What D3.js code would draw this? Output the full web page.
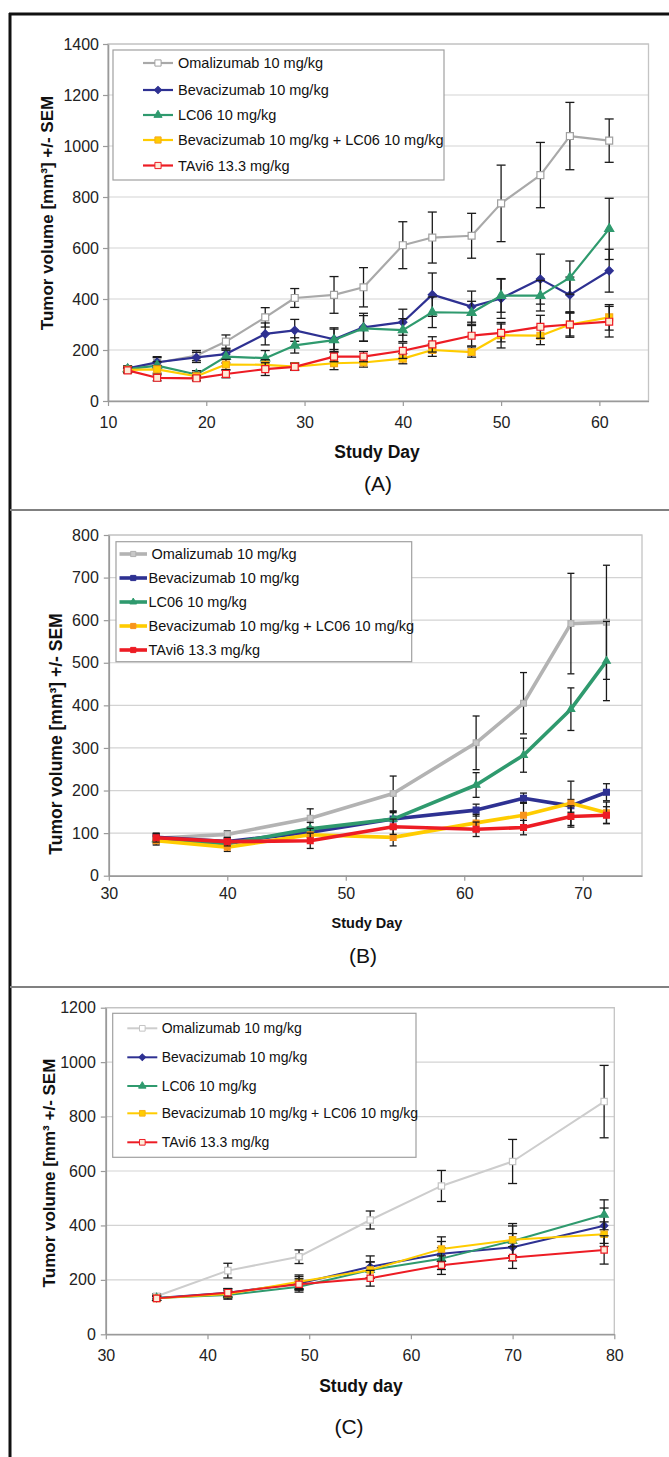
<!DOCTYPE html>
<html>
<head>
<meta charset="utf-8">
<script src="https://cdn.jsdelivr.net/npm/d3@7"></script>
<style>
body{margin:0;background:#fff}
svg{display:block}
text{font-family:Arial,"Liberation Sans",sans-serif}
</style>
</head>
<body>
<svg id="svg" width="669" height="1457"></svg>
<script>
//legend labels, same for the three panels
var seriesNames = ["Omalizumab 10 mg/kg", "Bevacizumab 10 mg/kg", "LC06 10 mg/kg",
    "Bevacizumab 10 mg/kg + LC06 10 mg/kg", "TAvi6 13.3 mg/kg"];

//panel A
var daysA = [12, 15, 19, 22, 26, 29, 33, 36, 40, 43, 47, 50, 54, 57, 61];
var omaA = [125, 150, 178, 233, 328, 404, 416, 446, 611, 641, 648, 775, 886, 1039, 1021];
var omaSemA = [10, 20, 20, 26, 38, 37, 72, 77, 92, 100, 88, 150, 128, 132, 85];
var bevA = [128, 152, 171, 184, 263, 277, 242, 289, 309, 417, 370, 402, 478, 416, 511];
var bevSemA = [10, 22, 20, 20, 43, 43, 40, 55, 51, 85, 61, 78, 98, 70, 84];
var lcA = [125, 139, 104, 174, 168, 218, 239, 285, 278, 348, 346, 413, 413, 484, 675];
var lcSemA = [10, 15, 15, 25, 30, 30, 48, 50, 45, 60, 45, 65, 60, 65, 120];
var comboA = [122, 124, 97, 143, 142, 135, 148, 151, 166, 200, 192, 258, 256, 300, 328];
var comboSemA = [10, 15, 15, 20, 20, 15, 25, 18, 20, 25, 20, 50, 35, 45, 50];
var taviA = [120, 91, 89, 106, 125, 134, 174, 174, 197, 222, 256, 267, 291, 300, 311];
var taviSemA = [10, 12, 10, 15, 25, 12, 20, 20, 30, 30, 40, 35, 45, 50, 60];
var yTicksA = [0, 200, 400, 600, 800, 1000, 1200, 1400];
var xTicksA = [10, 20, 30, 40, 50, 60];

//panel B
var daysB = [34, 40, 47, 54, 61, 65, 69, 72];
var omaB = [88, 97, 135, 193, 312, 405, 592, 595];
var omaSemB = [10, 8, 22, 41, 63, 72, 118, 134];
var bevB = [90, 80, 102, 133, 154, 182, 164, 196];
var bevSemB = [10, 8, 12, 15, 14, 12, 15, 20];
var lcB = [85, 75, 110, 133, 213, 283, 391, 504];
var lcSemB = [10, 8, 15, 18, 29, 40, 50, 93];
var comboB = [82, 67, 96, 90, 124, 142, 170, 148];
var comboSemB = [10, 10, 15, 20, 20, 30, 52, 25];
var taviB = [89, 80, 82, 115, 109, 113, 139, 142];
var taviSemB = [10, 10, 18, 18, 17, 17, 25, 20];
var yTicksB = [0, 100, 200, 300, 400, 500, 600, 700, 800];
var xTicksB = [30, 40, 50, 60, 70];

//panel C
var daysC = [35, 42, 49, 56, 63, 70, 79];
var omaC = [140, 234, 285, 420, 545, 635, 855];
var omaSemC = [8, 27, 25, 33, 57, 81, 133];
var bevC = [133, 153, 187, 248, 296, 320, 399];
var bevSemC = [8, 15, 25, 40, 45, 50, 65];
var lcC = [133, 144, 175, 236, 278, 343, 439];
var lcSemC = [8, 15, 20, 30, 40, 55, 55];
var comboC = [132, 148, 193, 236, 313, 347, 368];
var comboSemC = [8, 15, 25, 30, 45, 60, 45];
var taviC = [132, 153, 184, 206, 254, 282, 310];
var taviSemC = [8, 15, 20, 29, 34, 40, 52];
var yTicksC = [0, 200, 400, 600, 800, 1000, 1200];
var xTicksC = [30, 40, 50, 60, 70, 80];

var svg = d3.select("#svg");

//figure frame
svg.append("line").attr("x1", 10).attr("x2", 10).attr("y1", 13).attr("y2", 1457)
    .attr("stroke", "#111").attr("stroke-width", 3);
svg.append("line").attr("x1", 9).attr("x2", 669).attr("y1", 14).attr("y2", 14)
    .attr("stroke", "#111").attr("stroke-width", 3);
[510, 987].forEach(function(yy) {
    svg.append("line").attr("x1", 10).attr("x2", 669).attr("y1", yy).attr("y2", yy)
        .attr("stroke", "#808080").attr("stroke-width", 2);
});

function markerPath(kind, size) {
    if (kind == "diamond") return d3.symbol().type(d3.symbolSquare).size(size * 0.7)();
    if (kind == "triangle") return d3.symbol().type(d3.symbolTriangle).size(size * 0.75)();
    return d3.symbol().type(d3.symbolSquare).size(size)();
}

function drawPanel(p) {
    var x = d3.scaleLinear().domain(p.xDomain).range([p.left, p.right]);
    var y = d3.scaleLinear().domain(p.yDomain).range([p.bottom, p.top]);
    var g = svg.append("g");

    //gridlines
    g.selectAll(".grid").data(p.yTicks.filter(function(d){ return d > 0; })).enter()
        .append("line")
        .attr("x1", p.left).attr("x2", p.right)
        .attr("y1", function(d){ return y(d); }).attr("y2", function(d){ return y(d); })
        .attr("stroke", "#d3d3d3").attr("stroke-width", 1.2);

    //plot area border
    g.append("rect").attr("x", p.left).attr("y", p.top)
        .attr("width", p.right - p.left).attr("height", p.bottom - p.top)
        .attr("fill", "none").attr("stroke", "#c4c4c4").attr("stroke-width", 1.3);

    //axes
    var yAxis = g.append("g").attr("transform", "translate(" + p.left + ",0)")
        .call(d3.axisLeft(y).tickValues(p.yTicks).tickFormat(d3.format("d"))
            .tickSize(5).tickPadding(p.yPad).tickSizeOuter(0));
    var xAxis = g.append("g").attr("transform", "translate(0," + p.bottom + ")")
        .call(d3.axisBottom(x).tickValues(p.xTicks).tickFormat(d3.format("d"))
            .tickSize(5).tickPadding(p.xPad).tickSizeOuter(0));
    [yAxis, xAxis].forEach(function(ax) {
        ax.select(".domain").attr("stroke", "#9a9a9a").attr("stroke-width", 1.6);
        ax.selectAll(".tick line").attr("stroke", "#9a9a9a").attr("stroke-width", 1.2);
        ax.selectAll(".tick text").attr("font-size", p.tickFont).attr("fill", "#222")
            .attr("font-family", "Arial, 'Liberation Sans', sans-serif");
    });

    //series
    p.series.forEach(function(s) {
        var pts = p.days.map(function(d, i){ return {day: d, v: s.values[i], sem: s.sem[i]}; });
        g.append("path").datum(pts)
            .attr("fill", "none").attr("stroke", s.color).attr("stroke-width", p.lineW)
            .attr("stroke-linejoin", "round")
            .attr("d", d3.line().x(function(d){ return x(d.day); }).y(function(d){ return y(d.v); }));

        //error bars
        var eb = g.append("g").attr("stroke", "#1a1a1a").attr("stroke-width", 1.3);
        pts.forEach(function(d) {
            var cx = x(d.day), y1 = y(d.v - d.sem), y2 = y(d.v + d.sem);
            eb.append("line").attr("x1", cx).attr("x2", cx).attr("y1", y1).attr("y2", y2);
            eb.append("line").attr("x1", cx - p.cap).attr("x2", cx + p.cap).attr("y1", y1).attr("y2", y1);
            eb.append("line").attr("x1", cx - p.cap).attr("x2", cx + p.cap).attr("y1", y2).attr("y2", y2);
        });

        g.selectAll(null).data(pts).enter().append("path")
            .attr("d", markerPath(s.marker, p.mSize))
            .attr("transform", function(d){
                return "translate(" + x(d.day) + "," + y(d.v) + ")" + (s.marker == "diamond" ? " rotate(45)" : "");
            })
            .attr("fill", s.mFill).attr("stroke", s.mStroke).attr("stroke-width", 1.2);
    });

    //legend
    var lg = g.append("g");
    lg.append("rect").attr("x", p.legend.x).attr("y", p.legend.y)
        .attr("width", p.legend.w).attr("height", p.legend.h)
        .attr("fill", "#fff").attr("stroke", "#a0a0a0").attr("stroke-width", 1.2);
    p.series.forEach(function(s, i) {
        var ly = p.legend.rows[i];
        lg.append("line").attr("x1", p.legend.lx1).attr("x2", p.legend.lx2)
            .attr("y1", ly).attr("y2", ly)
            .attr("stroke", s.color).attr("stroke-width", p.lineW);
        lg.append("path").attr("d", markerPath(s.marker, p.mSize * 0.8))
            .attr("transform", "translate(" + (p.legend.lx1 + p.legend.lx2) / 2 + "," + ly + ")" + (s.marker == "diamond" ? " rotate(45)" : ""))
            .attr("fill", s.mFill).attr("stroke", s.mStroke).attr("stroke-width", 1);
        lg.append("text").attr("x", p.legend.tx + (i == 0 ? p.legend.firstShift : 0)).attr("y", ly)
            .attr("dy", "0.36em").attr("font-size", p.legend.font).attr("fill", "#111")
            .text(seriesNames[i]);
    });

    //titles
    g.append("text").attr("transform", "translate(" + p.yTitle.x + "," + p.yTitle.y + ") rotate(-90)")
        .attr("text-anchor", "middle").attr("font-weight", "bold").attr("font-size", p.yTitle.font)
        .attr("fill", "#111").text(p.yTitle.text);
    g.append("text").attr("x", p.xTitle.x).attr("y", p.xTitle.y)
        .attr("text-anchor", "middle").attr("font-weight", "bold").attr("font-size", p.xTitle.font)
        .attr("fill", "#111").text(p.xTitle.text);
    g.append("text").attr("x", p.label.x).attr("y", p.label.y)
        .attr("text-anchor", "middle").attr("font-size", 21).attr("fill", "#111").text(p.label.text);
}

var blue = "#2e3192", green = "#2f9a6e", yellow = "#ffcc00", red = "#ed1c24";

drawPanel({
    left: 108, right: 648.5, top: 44, bottom: 401,
    xDomain: [10, 65], yDomain: [0, 1400], xTicks: xTicksA, yTicks: yTicksA,
    yPad: 4, xPad: 11, tickFont: 16, lineW: 2.2, cap: 4.5, mSize: 48,
    days: daysA,
    series: [
        {values: omaA, sem: omaSemA, color: "#a9a9a9", marker: "square", mFill: "#fff", mStroke: "#a0a0a0"},
        {values: bevA, sem: bevSemA, color: blue, marker: "diamond", mFill: blue, mStroke: blue},
        {values: lcA, sem: lcSemA, color: green, marker: "triangle", mFill: green, mStroke: green},
        {values: comboA, sem: comboSemA, color: yellow, marker: "square", mFill: yellow, mStroke: "#f7a81b"},
        {values: taviA, sem: taviSemA, color: red, marker: "square", mFill: "#fdebd8", mStroke: red}
    ],
    legend: {x: 113, y: 50, w: 331, h: 130, rows: [63, 90, 115, 140, 165.5],
        lx1: 143, lx2: 173, tx: 178, firstShift: 0, font: 14.5},
    yTitle: {x: 53, y: 213, font: 17, text: "Tumor volume [mm\u00b3] +/- SEM"},
    xTitle: {x: 377, y: 458, font: 17.5, text: "Study Day"},
    label: {x: 378, y: 491, text: "(A)"}
});

drawPanel({
    left: 108.8, right: 642, top: 535, bottom: 875.7,
    xDomain: [30, 75], yDomain: [0, 800], xTicks: xTicksB, yTicks: yTicksB,
    yPad: 5, xPad: 7, tickFont: 16, lineW: 3.6, cap: 3.5, mSize: 34,
    days: daysB,
    series: [
        {values: omaB, sem: omaSemB, color: "#b3b3b3", marker: "square", mFill: "#c8c8c8", mStroke: "#b0b0b0"},
        {values: bevB, sem: bevSemB, color: blue, marker: "square", mFill: blue, mStroke: blue},
        {values: lcB, sem: lcSemB, color: green, marker: "triangle", mFill: green, mStroke: green},
        {values: comboB, sem: comboSemB, color: yellow, marker: "square", mFill: "#f7941d", mStroke: "#f7941d"},
        {values: taviB, sem: taviSemB, color: red, marker: "square", mFill: red, mStroke: red}
    ],
    legend: {x: 116, y: 541.7, w: 295.7, h: 120, rows: [554, 578, 602, 626, 650],
        lx1: 119.5, lx2: 147, tx: 148.5, firstShift: 3, font: 14.5},
    yTitle: {x: 62, y: 734, font: 17.5, text: "Tumor volume [mm\u00b3] +/- SEM"},
    xTitle: {x: 367, y: 928, font: 14.5, text: "Study Day"},
    label: {x: 363, y: 963, text: "(B)"}
});

drawPanel({
    left: 105.8, right: 614.3, top: 1007.7, bottom: 1334.3,
    xDomain: [30, 80], yDomain: [0, 1200], xTicks: xTicksC, yTicks: yTicksC,
    yPad: 5, xPad: 10, tickFont: 16, lineW: 2, cap: 4.5, mSize: 40,
    days: daysC,
    series: [
        {values: omaC, sem: omaSemC, color: "#cdcdcd", marker: "square", mFill: "#fff", mStroke: "#c4c4c4"},
        {values: bevC, sem: bevSemC, color: blue, marker: "diamond", mFill: blue, mStroke: blue},
        {values: lcC, sem: lcSemC, color: green, marker: "triangle", mFill: green, mStroke: green},
        {values: comboC, sem: comboSemC, color: yellow, marker: "square", mFill: yellow, mStroke: "#f7b21b"},
        {values: taviC, sem: taviSemC, color: red, marker: "square", mFill: "#fdebd8", mStroke: red}
    ],
    legend: {x: 112.7, y: 1013.3, w: 303.3, h: 144, rows: [1028.3, 1057.3, 1086, 1113.3, 1142.3],
        lx1: 127.3, lx2: 157.3, tx: 161.7, firstShift: 0, font: 14},
    yTitle: {x: 55, y: 1173, font: 17, text: "Tumor volume [mm\u00b3 +/- SEM"},
    xTitle: {x: 361, y: 1392, font: 17.5, text: "Study day"},
    label: {x: 349, y: 1434, text: "(C)"}
});
</script>
</body>
</html>
